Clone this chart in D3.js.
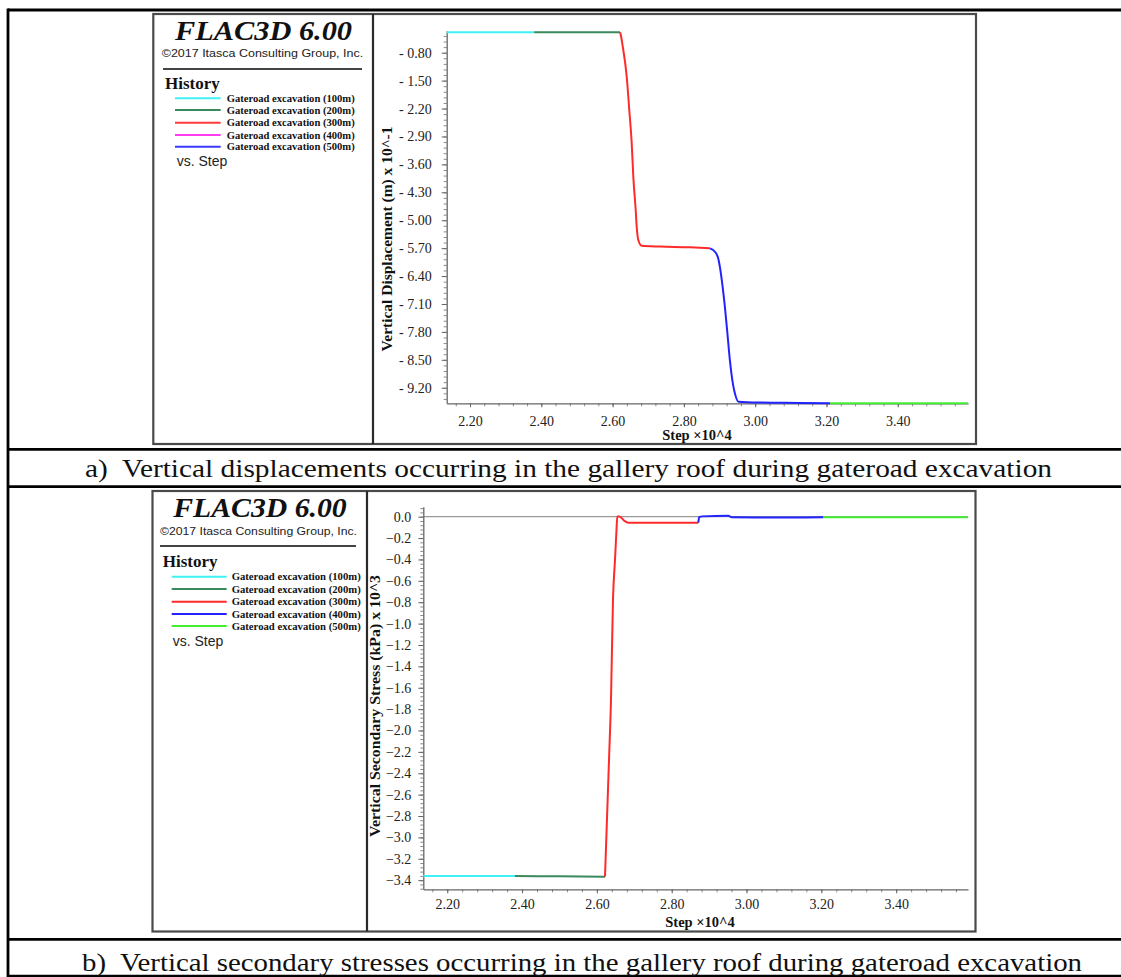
<!DOCTYPE html>
<html>
<head>
<meta charset="utf-8">
<script src="https://cdn.jsdelivr.net/npm/d3@7"></script>
<style>
  html, body { margin: 0; padding: 0; background: #fff; }
  svg { display: block; }
</style>
</head>
<body>
<svg id="chart" width="1121" height="977"></svg>
<script>
// ---------------- DATA ----------------
const seriesNames = [
  "Gateroad excavation (100m)",
  "Gateroad excavation (200m)",
  "Gateroad excavation (300m)",
  "Gateroad excavation (400m)",
  "Gateroad excavation (500m)"
];
// Step (x10^4), Vertical displacement (m x 10^-1)
const dispStage100 = [[2.1346, -0.288], [2.380, -0.288]];
const dispStage200 = [[2.380, -0.288], [2.500, -0.290], [2.621, -0.288]];
const dispStage300 = [[2.621, -0.288], [2.624, -0.40], [2.627, -0.564], [2.6396, -1.402], [2.6468, -2.237],
  [2.6536, -3.072], [2.6581, -3.909], [2.6648, -4.744], [2.6676, -5.163], [2.6721, -5.497],
  [2.6816, -5.640], [2.733, -5.660], [2.817, -5.680], [2.873, -5.705]];
const dispStage400 = [[2.873, -5.705], [2.887, -5.79], [2.896, -5.95], [2.901, -6.17], [2.908, -6.62],
  [2.915, -7.17], [2.922, -7.83], [2.929, -8.51], [2.938, -9.13], [2.943, -9.34], [2.953, -9.55],
  [3.013, -9.57], [3.126, -9.58], [3.210, -9.59]];
const dispStage500 = [[3.210, -9.59], [3.400, -9.59], [3.597, -9.59]];

// Step (x10^4), Vertical secondary stress (kPa x 10^3)
const stressStage100 = [[2.136, -3.361], [2.381, -3.361]];
const stressStage200 = [[2.381, -3.361], [2.500, -3.364], [2.6217, -3.367]];
const stressStage300 = [[2.6217, -3.367], [2.6324, -2.276], [2.6377, -1.715], [2.643, -0.779], [2.6484, -0.405],
  [2.6524, -0.124], [2.6545, 0.002], [2.6604, 0.002], [2.6725, -0.036], [2.684, -0.056], [2.8711, -0.056]];
const stressStage400 = [[2.8711, -0.056], [2.8735, -0.005], [2.882, 0.003], [2.9513, 0.010],
  [2.9604, -0.006], [3.100, -0.007], [3.2053, -0.006]];
const stressStage500 = [[3.2053, -0.006], [3.400, -0.006], [3.592, -0.006]];

const stepTicks = [2.20, 2.40, 2.60, 2.80, 3.00, 3.20, 3.40];
const dispTicks = [-0.80, -1.50, -2.20, -2.90, -3.60, -4.30, -5.00, -5.70, -6.40, -7.10, -7.80, -8.50, -9.20];
const stressTicks = [0.0, -0.2, -0.4, -0.6, -0.8, -1.0, -1.2, -1.4, -1.6, -1.8, -2.0, -2.2, -2.4, -2.6, -2.8, -3.0, -3.2, -3.4];

const captionA = "a)  Vertical displacements occurring in the gallery roof during gateroad excavation";
const captionB = "b)  Vertical secondary stresses occurring in the gallery roof during gateroad excavation";

// ---------------- STYLE ----------------
const legendColorsA = ["#3ff0f4", "#3a8a5e", "#ff3b3b", "#ff3cf0", "#3a3aff"];
const plotColorsA   = ["#3ff0f4", "#3a8a5e", "#ff2a2a", "#2222ff", "#44ee33"];
const colorsB       = ["#3ff0f4", "#3a8a5e", "#ff2a2a", "#2222ff", "#44ee33"];

const svg = d3.select("#chart");
const serif = "Liberation Serif, Times New Roman, serif";
const sans = "Liberation Sans, Arial, sans-serif";

// ---------------- TABLE LINES ----------------
const tableLines = [
  [8, 10, 1121, 10], [8, 449.3, 1121, 449.3], [8, 486.7, 1121, 486.7],
  [8, 939.3, 1121, 939.3], [8, 976.2, 1121, 976.2], [8, 8.5, 8, 977]
];
svg.selectAll("line.tbl").data(tableLines).enter().append("line")
  .attr("class", "tbl")
  .attr("x1", d => d[0]).attr("y1", d => d[1]).attr("x2", d => d[2]).attr("y2", d => d[3])
  .attr("stroke", "#000").attr("stroke-width", 2.8);

// ---------------- PANEL BUILDER ----------------
function panel(cfg) {
  const g = svg.append("g");
  g.append("rect").attr("x", cfg.frame[0]).attr("y", cfg.frame[1])
    .attr("width", cfg.frame[2] - cfg.frame[0]).attr("height", cfg.frame[3] - cfg.frame[1])
    .attr("fill", "#fff").attr("stroke", "#4a4a4a").attr("stroke-width", 2.2);
  g.append("line").attr("x1", cfg.divider).attr("x2", cfg.divider)
    .attr("y1", cfg.frame[1]).attr("y2", cfg.frame[3])
    .attr("stroke", "#2a2a2a").attr("stroke-width", 2.2);

  // Legend block
  const L = cfg.legend;
  g.append("text").attr("x", L.titleX).attr("y", L.titleY)
    .attr("font-family", serif).attr("font-weight", "bold").attr("font-style", "italic")
    .attr("font-size", 28).attr("textLength", L.titleW).attr("lengthAdjust", "spacingAndGlyphs")
    .attr("fill", "#111").text("FLAC3D 6.00");
  g.append("text").attr("x", L.copyX).attr("y", L.copyY)
    .attr("font-family", sans).attr("font-size", 11.5).attr("textLength", L.copyW)
    .attr("lengthAdjust", "spacingAndGlyphs").attr("fill", "#222")
    .text("\u00A92017 Itasca Consulting Group, Inc.");
  g.append("line").attr("x1", L.ruleX1).attr("x2", L.ruleX2).attr("y1", L.ruleY).attr("y2", L.ruleY)
    .attr("stroke", "#444").attr("stroke-width", 2);
  g.append("text").attr("x", L.histX).attr("y", L.histY)
    .attr("font-family", serif).attr("font-weight", "bold").attr("font-size", 17)
    .attr("fill", "#111").text("History");
  const items = g.selectAll("g.item").data(seriesNames).enter().append("g").attr("class", "item");
  items.append("line")
    .attr("x1", L.lineX1).attr("x2", L.lineX2)
    .attr("y1", (d, i) => L.itemY[i]).attr("y2", (d, i) => L.itemY[i])
    .attr("stroke", (d, i) => L.colors[i]).attr("stroke-width", 2);
  items.append("text")
    .attr("x", L.labelX).attr("y", (d, i) => L.itemY[i] + 3.6)
    .attr("font-family", serif).attr("font-weight", "bold").attr("font-size", 10.2)
    .attr("textLength", L.labelW).attr("lengthAdjust", "spacingAndGlyphs")
    .attr("fill", "#111").text(d => d);
  g.append("text").attr("x", L.vsX).attr("y", L.vsY)
    .attr("font-family", sans).attr("font-size", 14).attr("fill", "#222").text("vs. Step");

  // Scales
  const x = d3.scaleLinear().domain(cfg.xDomain).range(cfg.xRange);
  const y = d3.scaleLinear().domain(cfg.yDomain).range(cfg.yRange);
  const axisY = cfg.yRange[1];

  if (cfg.zeroLine) {
    g.append("line").attr("x1", cfg.xRange[0]).attr("x2", x(cfg.xDomain[1]))
      .attr("y1", y(0)).attr("y2", y(0)).attr("stroke", "#9a9a9a").attr("stroke-width", 1.3);
  }

  // minor ticks Y
  const yMinor = [];
  const ys = cfg.yMinorStep;
  const yLo = Math.min(...cfg.yDomain), yHi = Math.max(...cfg.yDomain);
  for (let k = Math.ceil((yLo - cfg.yMinorBase) / ys - 1e-6); cfg.yMinorBase + k * ys <= yHi + 1e-9; k++) {
    yMinor.push(cfg.yMinorBase + k * ys);
  }
  g.append("g").attr("transform", `translate(${cfg.xRange[0]},0)`)
    .call(d3.axisLeft(y).tickValues(yMinor).tickSize(3).tickFormat(""))
    .call(a => a.select(".domain").remove())
    .call(a => a.selectAll("line").attr("stroke", "#888"));
  g.append("g").attr("transform", `translate(${cfg.xRange[0]},0)`)
    .call(d3.axisLeft(y).tickValues(cfg.yTicks).tickSizeInner(5).tickSizeOuter(0)
      .tickPadding(cfg.yPad).tickFormat(cfg.yFormat))
    .call(a => a.select(".domain").attr("stroke", "#666").attr("stroke-width", 1.3))
    .call(a => a.selectAll("line").attr("stroke", "#666"))
    .call(a => a.selectAll("text").attr("font-family", serif).attr("font-size", 14).attr("fill", "#222"));

  // minor ticks X
  const xMinor = [];
  for (let k = Math.ceil((cfg.xDomain[0] - 2.2) / 0.04 - 1e-6); 2.2 + k * 0.04 <= cfg.xDomain[1] + 1e-9; k++) {
    xMinor.push(2.2 + k * 0.04);
  }
  g.append("g").attr("transform", `translate(0,${axisY})`)
    .call(d3.axisBottom(x).tickValues(xMinor).tickSize(3).tickFormat(""))
    .call(a => a.select(".domain").remove())
    .call(a => a.selectAll("line").attr("stroke", "#888"));
  g.append("g").attr("transform", `translate(0,${axisY})`)
    .call(d3.axisBottom(x).tickValues(stepTicks).tickSizeInner(4).tickSizeOuter(0)
      .tickPadding(cfg.xPad).tickFormat(d3.format(".2f")))
    .call(a => a.select(".domain").attr("stroke", "#666").attr("stroke-width", 1.3))
    .call(a => a.selectAll("line").attr("stroke", "#666"))
    .call(a => a.selectAll("text").attr("font-family", serif).attr("font-size", 14).attr("fill", "#222"));

  // axis titles
  g.append("text")
    .attr("transform", `translate(${cfg.yTitleX},${cfg.yTitleY}) rotate(-90)`)
    .attr("text-anchor", "middle").attr("font-family", serif).attr("font-weight", "bold")
    .attr("font-size", 14).attr("textLength", cfg.yTitleW).attr("lengthAdjust", "spacingAndGlyphs")
    .attr("fill", "#111").text(cfg.yTitle);
  g.append("text").attr("x", cfg.xTitleX).attr("y", cfg.xTitleY)
    .attr("text-anchor", "middle").attr("font-family", serif).attr("font-weight", "bold")
    .attr("font-size", 14.5).attr("fill", "#111").text("Step \u00D710^4");

  // series lines
  const line = d3.line().x(d => x(d[0])).y(d => y(d[1])).curve(d3.curveMonotoneX);
  g.selectAll("path.series").data(cfg.series).enter().append("path")
    .attr("class", "series")
    .attr("d", d => line(d))
    .attr("fill", "none")
    .attr("stroke", (d, i) => cfg.plotColors[i])
    .attr("stroke-width", 2)
    .attr("stroke-linejoin", "round");
}

// ---------------- PANEL A ----------------
panel({
  frame: [153.3, 14, 976, 444],
  divider: 373,
  legend: {
    titleX: 175, titleY: 40, titleW: 177,
    copyX: 161.7, copyY: 57.3, copyW: 201.5,
    ruleX1: 163, ruleX2: 362, ruleY: 69,
    histX: 165, histY: 89.3,
    lineX1: 175, lineX2: 220.7, itemY: [98.3, 110, 122.7, 135, 146.7],
    labelX: 226.7, labelW: 128, colors: legendColorsA,
    vsX: 176.7, vsY: 165.7
  },
  xDomain: [2.1346, 3.597], xRange: [446.7, 968],
  yDomain: [-0.2483, -9.59], yRange: [30.7, 403.3],
  yTicks: dispTicks, yFormat: d => "- " + d3.format(".2f")(-d), yPad: 10,
  yMinorStep: 0.14, yMinorBase: -0.80,
  xPad: 9,
  yTitle: "Vertical Displacement (m) x 10^-1", yTitleX: 391.5, yTitleY: 239, yTitleW: 225,
  xTitleX: 697, xTitleY: 440,
  series: [dispStage100, dispStage200, dispStage300, dispStage400, dispStage500],
  plotColors: plotColorsA,
  zeroLine: false
});

// ---------------- PANEL B ----------------
panel({
  frame: [152.5, 491, 975.5, 931.5],
  divider: 367,
  legend: {
    titleX: 173.3, titleY: 516.7, titleW: 173.4,
    copyX: 160, copyY: 535, copyW: 197,
    ruleX1: 160, ruleX2: 356, ruleY: 546,
    histX: 162.7, histY: 567.3,
    lineX1: 171.7, lineX2: 226.7, itemY: [576.7, 589, 601.7, 614, 626],
    labelX: 231.7, labelW: 129, colors: colorsB,
    vsX: 172.7, vsY: 645.7
  },
  xDomain: [2.136, 3.592], xRange: [423.3, 968],
  yDomain: [0.0935, -3.4855], yRange: [506.7, 889.3],
  yTicks: stressTicks, yFormat: d3.format(".1f"), yPad: 7,
  yMinorStep: 0.04, yMinorBase: 0,
  xPad: 6,
  yTitle: "Vertical Secondary Stress (kPa) x 10^3", yTitleX: 380, yTitleY: 706, yTitleW: 262,
  xTitleX: 700, xTitleY: 927,
  series: [stressStage100, stressStage200, stressStage300, stressStage400, stressStage500],
  plotColors: colorsB,
  zeroLine: true
});

// ---------------- CAPTIONS ----------------
const caps = [
  { t: captionA, x: 85, y: 476.5, w: 967 },
  { t: captionB, x: 82, y: 970.5, w: 1000 }
];
svg.selectAll("text.cap").data(caps).enter().append("text")
  .attr("class", "cap")
  .attr("x", d => d.x).attr("y", d => d.y)
  .attr("font-family", serif).attr("font-size", 25)
  .attr("textLength", d => d.w).attr("lengthAdjust", "spacingAndGlyphs")
  .attr("fill", "#111")
  .attr("xml:space", "preserve")
  .text(d => d.t);
</script>
</body>
</html>
